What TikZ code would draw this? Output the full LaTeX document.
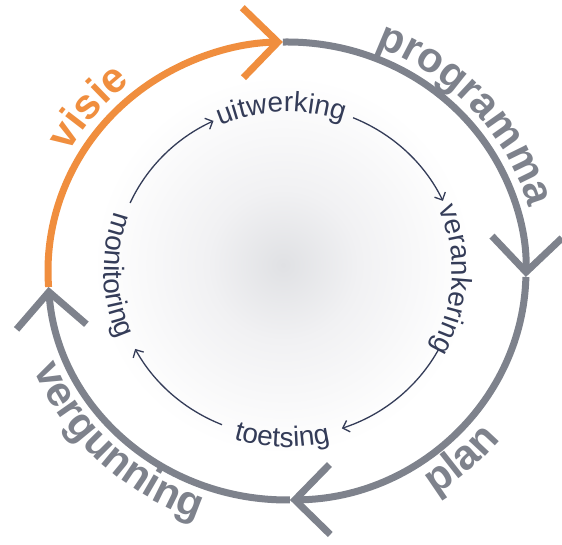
\documentclass[tikz,border=0pt]{standalone}
\usepackage{fontspec}
\setmainfont{Liberation Sans}
\usetikzlibrary{arrows.meta,decorations.text}
\definecolor{corange}{RGB}{240,142,62}
\definecolor{cgray}{RGB}{126,130,140}
\definecolor{cnavy}{RGB}{52,60,88}
\definecolor{cglow}{RGB}{224,225,228}
\definecolor{cglowmid}{RGB}{241,241,243}
\pgfdeclareradialshading{bgglow}{\pgfpoint{0bp}{0bp}}{color(0bp)=(cglow); color(10bp)=(cglowmid); color(25bp)=(white); color(50bp)=(white)}
\newcommand\outerfont{\fontsize{42}{42}\selectfont\bfseries}
\newcommand\innerfont{\fontsize{28}{28}\selectfont}
\begin{document}
\begin{tikzpicture}[x=1pt,y=1pt,
  bigarc/.style={line width=7pt, -{Straight Barb[length=35pt,width=70pt]}},
  smallarc/.style={line width=1.3pt, draw=cnavy, -{Straight Barb[length=6pt,width=12pt]}},
  outerlabel/.style={decorate, decoration={text along path, text align=center, text color=#1}},
  innerlabel/.style={decorate, decoration={text along path, text align=center, text color=cnavy}}]
\useasboundingbox (0,0) rectangle (562,545);
\fill[white] (0,0) rectangle (562,545);
\shade[shading=bgglow] (93,90) rectangle (473,470);
\coordinate (c) at (287,274);
% tips of the outer cycle
\path (c) ++(91:239 and 229) coordinate (pT);
\path (c) ++(-1.5:239 and 229) coordinate (pR);
\path (c) ++(-89.3:239 and 229) coordinate (pB);
\path (c) ++(184:239 and 229) coordinate (pL);
% outer arcs
\draw[bigarc, draw=corange] (pL) arc[start angle=184, end angle=91, x radius=239, y radius=229];
\draw[bigarc, draw=cgray] (pT) arc[start angle=91, end angle=-1.5, x radius=239, y radius=229];
\draw[bigarc, draw=cgray] (pR) arc[start angle=-1.5, end angle=-89.3, x radius=239, y radius=229];
\draw[bigarc, draw=cgray] (pB) arc[start angle=270.7, end angle=184, x radius=239, y radius=229];
% outer labels
\path[outerlabel=corange, decoration={text={|\outerfont|visie}}]
  (c) ++(180:251 and 241) arc[start angle=180, end angle=100, x radius=251, y radius=241];
\path[outerlabel=cgray, decoration={text={|\outerfont|programma}}]
  (c) ++(82:250 and 240) arc[start angle=82, end angle=2, x radius=250, y radius=240];
\path[outerlabel=cgray, decoration={text={|\outerfont|plan}}]
  (c) ++(-88:276 and 266) arc[start angle=-88, end angle=-8, x radius=276, y radius=266];
\path[outerlabel=cgray, decoration={text={|\outerfont|vergunning}}]
  (c) ++(176:273 and 263) arc[start angle=176, end angle=276, x radius=273, y radius=263];
% inner labels
\path[innerlabel, decoration={text={|\innerfont|uitwerking}}]
  (c) ++(152:165 and 159) arc[start angle=152, end angle=32, x radius=165, y radius=159];
\path[innerlabel, decoration={text={|\innerfont|verankering}}]
  (c) ++(57:165 and 158) arc[start angle=57, end angle=-63, x radius=165, y radius=158];
\path[innerlabel, decoration={text={|\innerfont|toetsing}}]
  (c) ++(208.4:183 and 176) arc[start angle=208.4, end angle=328.4, x radius=183, y radius=176];
\path[innerlabel, decoration={text={|\innerfont|monitoring}}]
  (c) ++(121.6:183 and 175) arc[start angle=121.6, end angle=241.6, x radius=183, y radius=175];
% inner arrows
\path (c) ++(67.4:172 and 166) coordinate (a1);
\path (c) ++(-28.3:172 and 166) coordinate (a2);
\path (c) ++(247.8:172 and 166) coordinate (a3);
\path (c) ++(155.8:172 and 166) coordinate (a4);
\draw[smallarc] (a1) arc[start angle=67.4, end angle=25, x radius=172, y radius=166];
\draw[smallarc] (a2) arc[start angle=-28.3, end angle=-71.4, x radius=172, y radius=166];
\draw[smallarc] (a3) arc[start angle=247.8, end angle=208, x radius=172, y radius=166];
\draw[smallarc] (a4) arc[start angle=155.8, end angle=115.3, x radius=172, y radius=166];
\end{tikzpicture}
\end{document}
